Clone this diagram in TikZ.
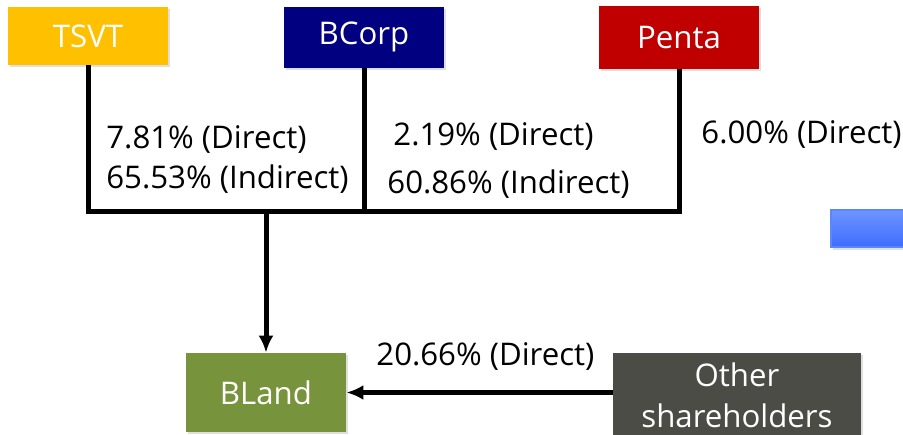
\documentclass[tikz,border=0pt]{standalone}
\usepackage{fontspec}
\setmainfont{Open Sans}
\usetikzlibrary{shapes, arrows, arrows.meta, shadows}
\definecolor{tsvtcol}{HTML}{FFC000}
\definecolor{bcorpcol}{HTML}{000080}
\definecolor{pentacol}{HTML}{C00000}
\definecolor{blandcol}{HTML}{77933C}
\definecolor{othercol}{HTML}{4C4C46}
\definecolor{bluetop}{HTML}{6E94FF}
\definecolor{bluebot}{HTML}{3D6DFF}
\definecolor{blueline}{HTML}{5A86FF}
\tikzstyle{block} = [rectangle, text=white, text centered, inner sep=0pt,
    minimum width=80pt, drop shadow={opacity=0.25, shadow xshift=1.2pt, shadow yshift=-1.2pt}]
\tikzstyle{line} = [draw, line width=2.5pt]
\tikzstyle{arrow} = [draw, line width=2.5pt, -{Latex[length=8.5pt, width=7.5pt]}]
\tikzstyle{share} = [anchor=base west, inner sep=0pt]

\begin{document}
\begin{tikzpicture}[x=0.5pt, y=-0.5pt]
\tikzstyle{every node}=[font=\fontsize{15.6}{20.5}\selectfont]
\clip (0,0) rectangle (903,434);
\fill[white] (0,0) rectangle (903,434);
\node[block, fill=tsvtcol, minimum height=29pt] (tsvt) at (88,36) {TSVT};
\node[block, fill=bcorpcol, minimum height=30.5pt] (b_corp) at (364,37) {BCorp};
\node[block, fill=pentacol, minimum height=31.5pt] (penta) at (679,37.5) {Penta};
\node[block, fill=blandcol, minimum height=39.5pt] (b_land) at (266,392.5) {BLand};
\node[block, fill=othercol, minimum width=124pt, minimum height=42pt, align=center] (other_sh) at (737,395) {Other\\shareholders};
\node[rectangle, draw=blueline, line width=0.6pt, top color=bluetop, bottom color=bluebot,
    minimum width=70pt, minimum height=18.5pt, inner sep=0pt,
    drop shadow={opacity=0.25, shadow xshift=1.2pt, shadow yshift=-1.5pt}] (blue_box) at (901,228.5) {};
\coordinate (hub) at (266,211);
\node[share] (tsvt_d) at (106,148) {7.81\% (Direct)};
\node[share] (tsvt_i) at (106,188) {65.53\% (Indirect)};
\node[share] (bcorp_d) at (393,145) {2.19\% (Direct)};
\node[share] (bcorp_i) at (387,193) {60.86\% (Indirect)};
\node[share] (penta_d) at (701,143) {6.00\% (Direct)};
\node[share] (other_d) at (376,365) {20.66\% (Direct)};
\path [line] (tsvt.south) |- (hub) -| (penta.south);
\path [line] (b_corp.south) -- (b_corp.south |- hub);
\path [arrow] (hub) -- (b_land.north);
\path [arrow] (other_sh.west |- b_land.east) -- (b_land.east);
\end{tikzpicture}
\end{document}
